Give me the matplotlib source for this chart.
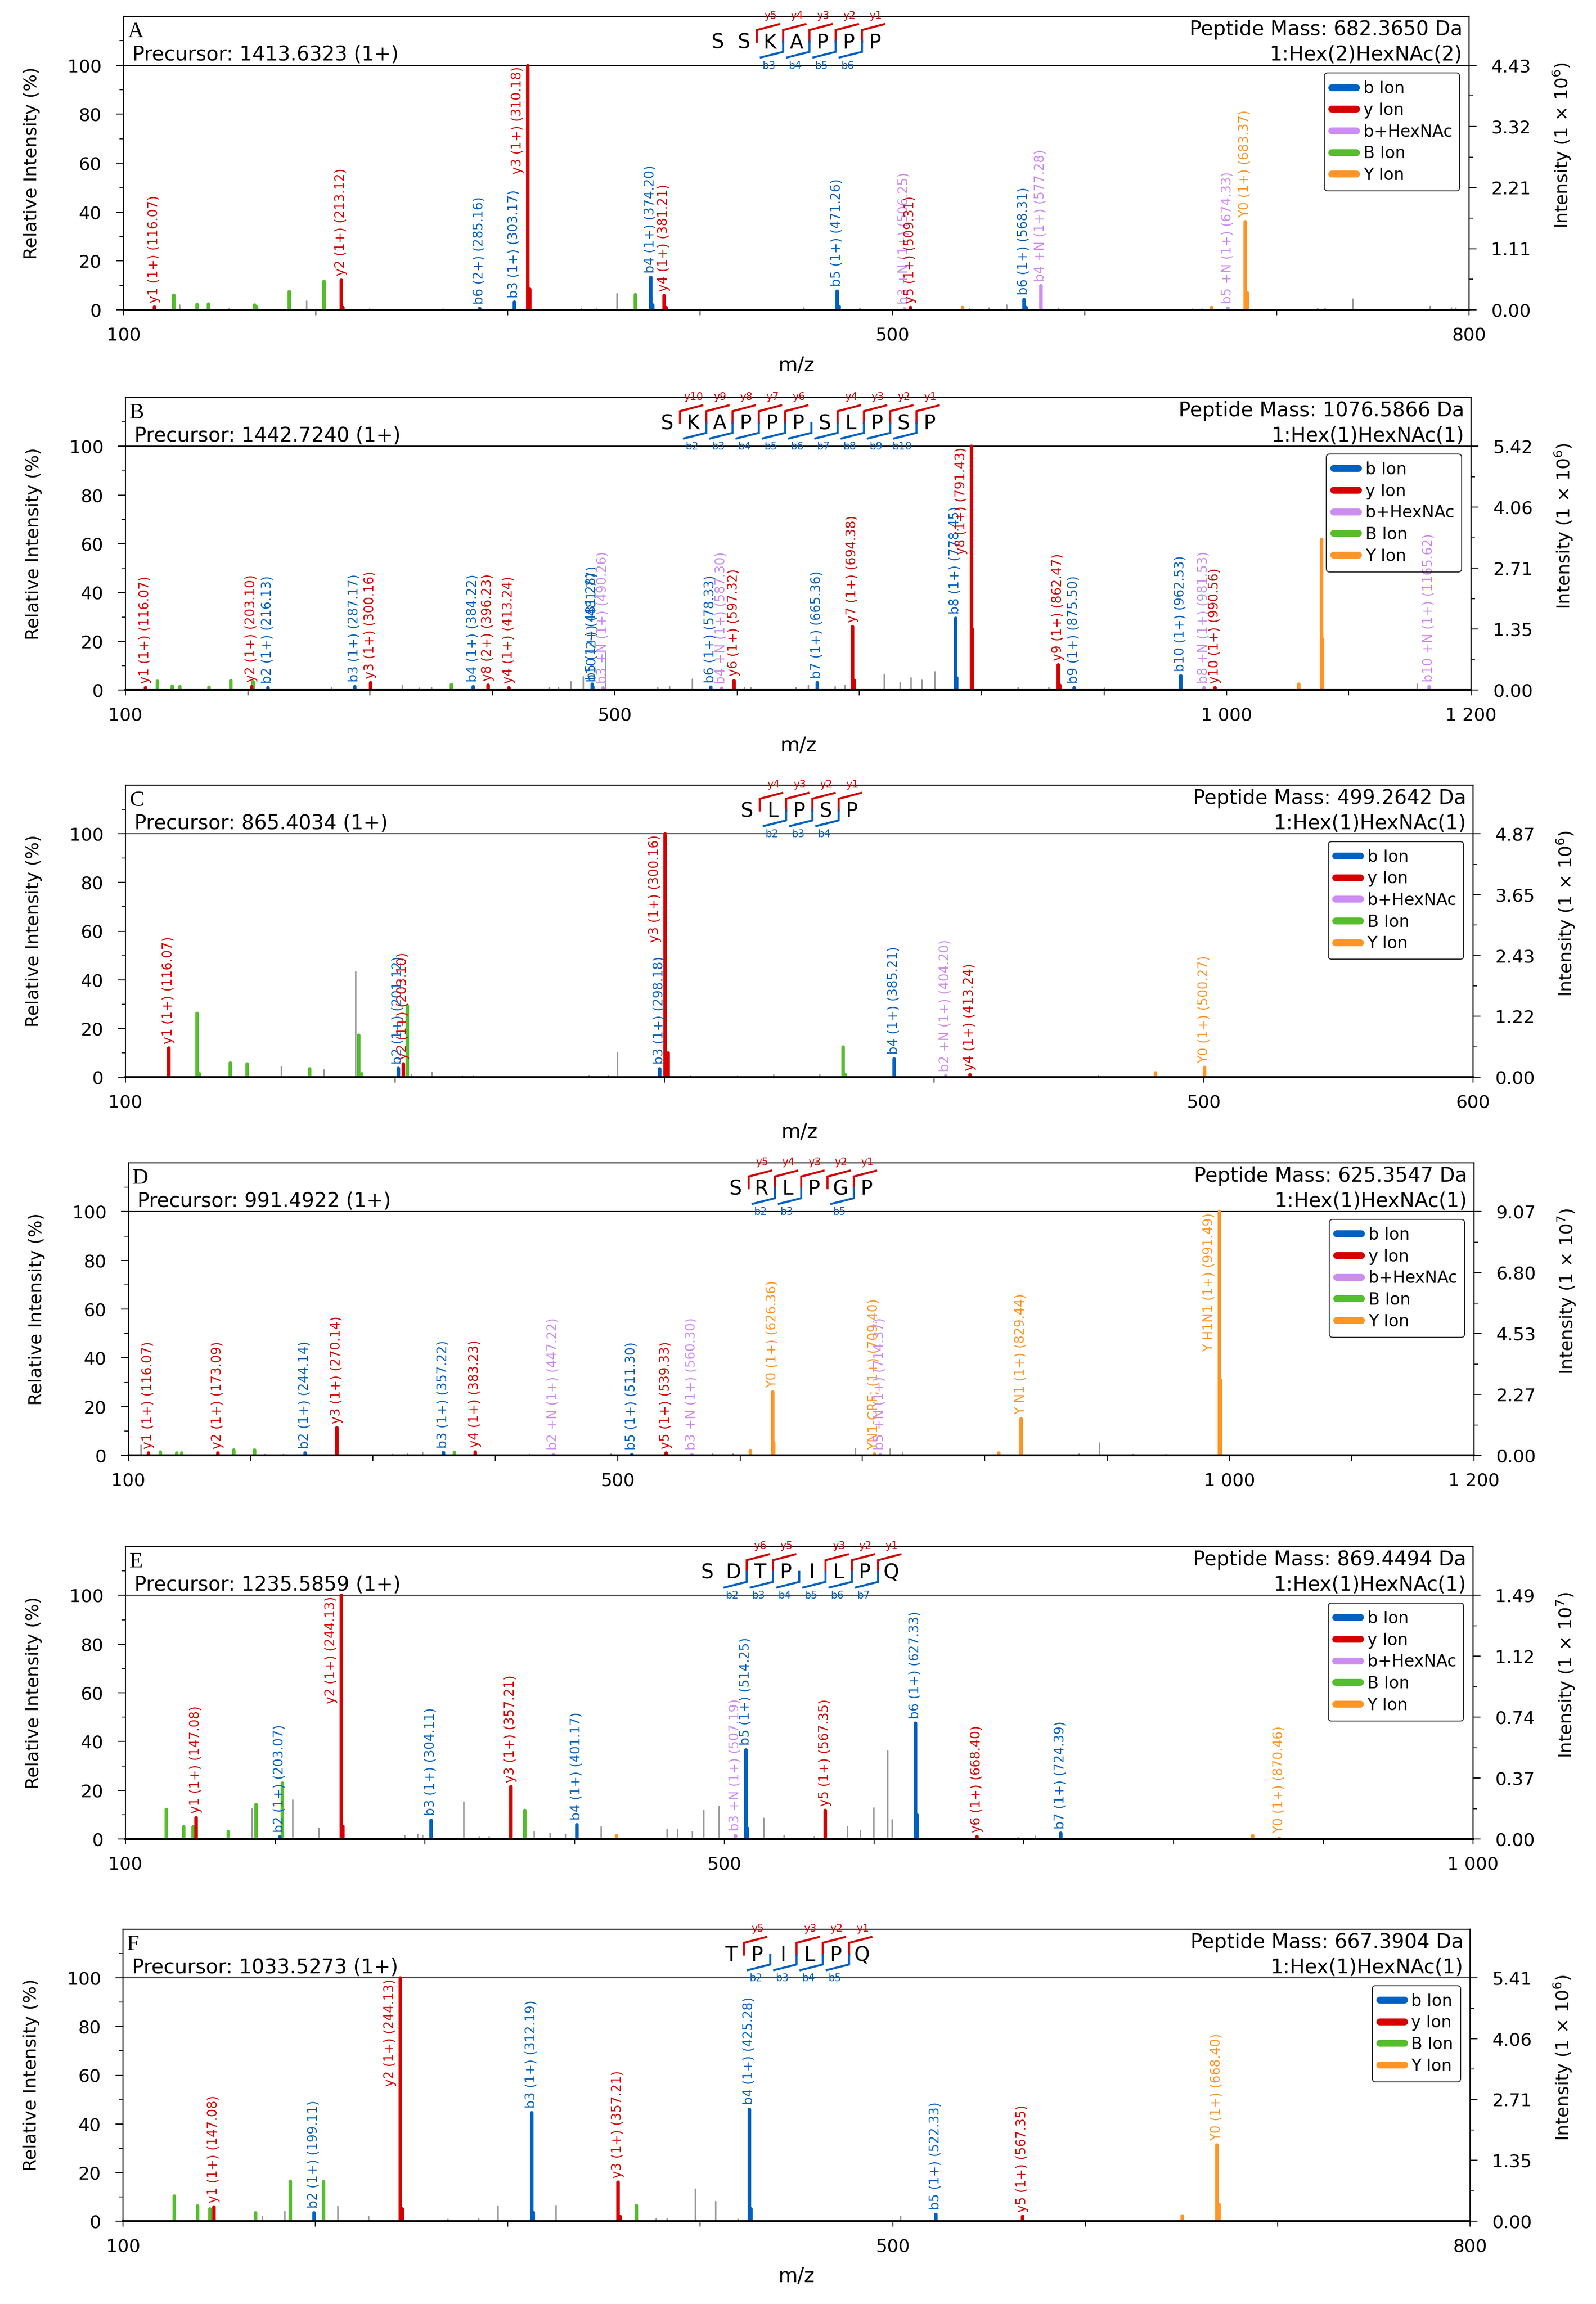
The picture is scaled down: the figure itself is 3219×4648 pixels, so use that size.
import matplotlib
matplotlib.use("Agg")
import matplotlib.pyplot as plt
from matplotlib.lines import Line2D
from matplotlib import transforms

# colours of the ion families
ION_COLORS = {"b": "#0061c1", "y": "#d50000", "N": "#cc8df0",
              "B": "#56bd2e", "Y": "#ff9527", "g": "#9b9b9b"}
LEGEND_NAMES = {"b": "b Ion", "y": "y Ion", "N": "b+HexNAc", "B": "B Ion", "Y": "Y Ion"}

# ---------------- panel A ----------------
A_SEQUENCE = "SSKAPPP"
A_Y_SITES = [2, 3, 4, 5, 6]
A_B_SITES = [3, 4, 5, 6]
A_PRECURSOR = "Precursor: 1413.6323 (1+)"
A_MASS = "Peptide Mass: 682.3650 Da"
A_GLYCAN = "1:Hex(2)HexNAc(2)"
A_XMAX = 800
A_XLABELS = {100: "100", 500: "500", 800: "800"}
A_RIGHT_TICKS = ["0.00", "1.11", "2.21", "3.32", "4.43"]
A_EXP = 6
# (m/z, relative intensity %, ion type, annotation)
A_PEAKS = [
    (116.07, 1.2, "y", "y1 (1+)"), (126.05, 6.0, "B", ""), (129.1, 2.0, "g", ""),
    (138.05, 2.3, "B", ""), (144.07, 2.5, "B", ""), (155.0, 0.6, "g", ""),
    (168.06, 2.0, "B", ""), (169.06, 1.2, "B", ""), (186.08, 7.6, "B", ""),
    (195.3, 3.7, "g", ""), (204.09, 11.7, "B", ""), (213.12, 12.2, "y", "y2 (1+)"),
    (214.12, 1.0, "y", ""), (228.0, 0.5, "g", ""), (266.0, 0.5, "g", ""),
    (285.16, 0.6, "b", "b6 (2+)"), (303.17, 3.2, "b", "b3 (1+)"),
    (310.18, 100.0, "y", "y3 (1+)"), (311.18, 8.5, "y", ""), (338.0, 0.6, "g", ""),
    (346.0, 0.5, "g", ""), (356.6, 6.7, "g", ""), (366.14, 6.2, "B", ""),
    (374.20, 13.4, "b", "b4 (1+)"), (375.20, 2.0, "b", ""),
    (381.21, 5.9, "y", "y4 (1+)"), (382.21, 1.0, "y", ""), (453.8, 0.8, "g", ""),
    (471.26, 7.8, "b", "b5 (1+)"), (472.26, 1.5, "b", ""), (483.0, 0.6, "g", ""),
    (506.25, 0.5, "N", "b3 +N (1+)"), (509.31, 1.0, "y", "y5 (1+)"),
    (536.3, 1.0, "Y", ""), (540.0, 0.6, "g", ""), (550.0, 0.8, "g", ""),
    (559.4, 2.0, "g", ""), (568.31, 4.3, "b", "b6 (1+)"), (569.31, 1.0, "b", ""),
    (577.28, 9.9, "N", "b4 +N (1+)"), (586.3, 0.6, "g", ""), (656.0, 0.5, "g", ""),
    (661.0, 0.5, "g", ""), (666.0, 1.0, "Y", ""), (674.33, 0.8, "N", "b5 +N (1+)"),
    (683.37, 36.0, "Y", "Y0 (1+)"), (684.37, 7.0, "Y", ""), (721.0, 0.6, "g", ""),
    (725.0, 0.6, "g", ""), (739.4, 4.5, "g", ""), (779.6, 1.5, "g", ""),
    (790.8, 0.8, "g", ""), (793.0, 0.8, "g", ""),
]

# ---------------- panel B ----------------
B_SEQUENCE = "SKAPPPSLPSP"
B_Y_SITES = [1, 2, 3, 4, 5, 7, 8, 9, 10]
B_B_SITES = [2, 3, 4, 5, 6, 7, 8, 9, 10]
B_PRECURSOR = "Precursor: 1442.7240 (1+)"
B_MASS = "Peptide Mass: 1076.5866 Da"
B_GLYCAN = "1:Hex(1)HexNAc(1)"
B_XMAX = 1200
B_XLABELS = {100: "100", 500: "500", 1000: "1 000", 1200: "1 200"}
B_RIGHT_TICKS = ["0.00", "1.35", "2.71", "4.06", "5.42"]
B_EXP = 6
B_PEAKS = [
    (116.07, 1.0, "y", "y1 (1+)"), (126.1, 3.7, "B", ""), (138.1, 1.6, "B", ""),
    (144.1, 1.5, "B", ""), (168.1, 1.3, "B", ""), (186.1, 3.8, "B", ""),
    (203.10, 1.5, "y", "y2 (1+)"), (204.1, 3.5, "B", ""), (216.13, 1.0, "b", "b2 (1+)"),
    (268.0, 1.0, "g", ""), (287.17, 1.5, "b", "b3 (1+)"), (300.16, 3.0, "y", "y3 (1+)"),
    (326.0, 2.0, "g", ""), (340.0, 0.8, "g", ""), (350.0, 1.0, "g", ""),
    (366.1, 2.2, "B", ""), (384.22, 1.5, "b", "b4 (1+)"), (396.23, 2.0, "y", "y8 (2+)"),
    (413.24, 1.0, "y", "y4 (1+)"), (446.0, 1.0, "g", ""), (454.0, 1.0, "g", ""),
    (464.0, 3.4, "g", ""), (474.0, 5.4, "g", ""), (481.28, 2.4, "b", "b5 (1+)"),
    (481.77, 1.5, "b", "b10 (2+)"), (490.26, 1.0, "N", "b3 +N (1+)"),
    (492.4, 15.6, "g", ""), (534.7, 1.0, "g", ""), (544.7, 1.5, "g", ""),
    (563.3, 4.4, "g", ""), (578.33, 1.2, "b", "b6 (1+)"), (587.30, 0.8, "N", "b4 +N (1+)"),
    (597.32, 3.9, "y", "y6 (1+)"), (606.0, 1.0, "g", ""), (611.0, 1.0, "g", ""),
    (648.0, 1.0, "g", ""), (658.0, 2.0, "g", ""), (665.36, 3.0, "b", "b7 (1+)"),
    (680.0, 1.5, "g", ""), (688.0, 2.0, "g", ""), (694.38, 26.0, "y", "y7 (1+)"),
    (695.38, 4.0, "y", ""), (720.0, 6.5, "g", ""), (733.0, 3.0, "g", ""),
    (742.0, 5.0, "g", ""), (751.0, 4.0, "g", ""), (761.4, 7.6, "g", ""),
    (778.45, 29.4, "b", "b8 (1+)"), (779.45, 5.0, "b", ""),
    (791.43, 100.0, "y", "y8 (1+)"), (792.43, 25.0, "y", ""), (829.7, 1.0, "g", ""),
    (854.6, 1.0, "g", ""), (862.47, 10.4, "y", "y9 (1+)"), (863.47, 2.0, "y", ""),
    (875.50, 1.0, "b", "b9 (1+)"), (900.0, 0.8, "g", ""), (962.53, 5.9, "b", "b10 (1+)"),
    (981.53, 1.0, "N", "b8 +N (1+)"), (990.56, 1.0, "y", "y10 (1+)"),
    (1059.0, 2.5, "Y", ""), (1077.6, 61.8, "Y", ""), (1078.6, 21.0, "Y", ""),
    (1156.0, 2.5, "g", ""), (1165.62, 1.5, "N", "b10 +N (1+)"),
]

# ---------------- panel C ----------------
C_SEQUENCE = "SLPSP"
C_Y_SITES = [1, 2, 3, 4]
C_B_SITES = [2, 3, 4]
C_PRECURSOR = "Precursor: 865.4034 (1+)"
C_MASS = "Peptide Mass: 499.2642 Da"
C_GLYCAN = "1:Hex(1)HexNAc(1)"
C_XMAX = 600
C_XLABELS = {100: "100", 500: "500", 600: "600"}
C_RIGHT_TICKS = ["0.00", "1.22", "2.43", "3.65", "4.87"]
C_EXP = 6
C_PEAKS = [
    (116.07, 12.0, "y", "y1 (1+)"), (126.4, 26.3, "B", ""), (127.4, 1.5, "B", ""),
    (138.9, 6.0, "B", ""), (145.0, 5.6, "B", ""), (157.8, 4.2, "g", ""),
    (168.3, 3.5, "B", ""), (173.6, 3.0, "g", ""), (185.4, 43.4, "g", ""),
    (186.5, 17.3, "B", ""), (187.5, 1.5, "B", ""), (201.12, 3.7, "b", "b2 (1+)"),
    (203.10, 5.4, "y", "y2 (1+)"), (204.5, 29.5, "B", ""), (206.0, 1.0, "g", ""),
    (213.7, 2.0, "g", ""), (225.0, 0.5, "g", ""), (229.0, 0.5, "g", ""),
    (272.0, 0.6, "g", ""), (279.0, 0.7, "g", ""), (282.4, 10.0, "g", ""),
    (298.18, 3.5, "b", "b3 (1+)"), (300.16, 100.0, "y", "y3 (1+)"),
    (301.16, 10.0, "y", ""), (309.6, 0.5, "g", ""), (327.0, 0.5, "g", ""),
    (340.5, 1.0, "g", ""), (357.5, 1.0, "g", ""), (366.2, 12.5, "B", ""),
    (367.2, 1.0, "B", ""), (385.21, 7.6, "b", "b4 (1+)"),
    (404.20, 0.6, "N", "b2 +N (1+)"), (413.24, 1.0, "y", "y4 (1+)"),
    (461.0, 0.6, "g", ""), (482.1, 1.8, "Y", ""), (500.27, 4.0, "Y", "Y0 (1+)"),
]

# ---------------- panel D ----------------
D_SEQUENCE = "SRLPGP"
D_Y_SITES = [1, 2, 3, 4, 5]
D_B_SITES = [2, 3, 5]
D_PRECURSOR = "Precursor: 991.4922 (1+)"
D_MASS = "Peptide Mass: 625.3547 Da"
D_GLYCAN = "1:Hex(1)HexNAc(1)"
D_XMAX = 1200
D_XLABELS = {100: "100", 500: "500", 1000: "1 000", 1200: "1 200"}
D_RIGHT_TICKS = ["0.00", "2.27", "4.53", "6.80", "9.07"]
D_EXP = 7
D_PEAKS = [
    (110.0, 4.3, "g", ""), (116.07, 1.0, "y", "y1 (1+)"), (126.1, 1.5, "B", ""),
    (139.3, 1.0, "B", ""), (143.4, 1.0, "B", ""), (173.09, 1.0, "y", "y2 (1+)"),
    (186.1, 2.3, "B", ""), (203.1, 2.3, "B", ""), (211.5, 0.5, "g", ""),
    (226.5, 0.5, "g", ""), (244.14, 1.0, "b", "b2 (1+)"), (270.14, 11.4, "y", "y3 (1+)"),
    (315.5, 0.5, "g", ""), (328.0, 0.8, "g", ""), (340.4, 1.2, "g", ""),
    (357.22, 1.2, "b", "b3 (1+)"), (366.1, 1.2, "B", ""), (383.23, 1.5, "y", "y4 (1+)"),
    (427.8, 0.5, "g", ""), (447.22, 0.5, "N", "b2 +N (1+)"), (494.4, 0.6, "g", ""),
    (511.30, 0.5, "b", "b5 (1+)"), (539.33, 1.0, "y", "y5 (1+)"),
    (560.30, 0.5, "N", "b3 +N (1+)"), (577.6, 0.8, "g", ""), (594.0, 0.6, "g", ""),
    (608.4, 2.0, "Y", ""), (626.36, 26.0, "Y", "Y0 (1+)"), (627.36, 5.0, "Y", ""),
    (694.2, 2.9, "g", ""), (709.40, 0.6, "Y", "YN1-CRF; (1+)"),
    (714.37, 0.5, "N", "b5 +N (1+)"), (722.6, 2.7, "g", ""), (732.7, 1.0, "g", ""),
    (811.4, 1.0, "Y", ""), (829.44, 15.0, "Y", "Y N1 (1+)"), (877.0, 0.6, "g", ""),
    (893.7, 5.0, "g", ""), (921.0, 0.5, "g", ""), (948.0, 0.5, "g", ""),
    (991.49, 100.0, "Y", "Y H1N1 (1+)"), (992.49, 31.0, "Y", ""),
]

# ---------------- panel E ----------------
E_SEQUENCE = "SDTPILPQ"
E_Y_SITES = [2, 3, 5, 6, 7]
E_B_SITES = [2, 3, 4, 5, 6, 7]
E_PRECURSOR = "Precursor: 1235.5859 (1+)"
E_MASS = "Peptide Mass: 869.4494 Da"
E_GLYCAN = "1:Hex(1)HexNAc(1)"
E_XMAX = 1000
E_XLABELS = {100: "100", 500: "500", 1000: "1 000"}
E_RIGHT_TICKS = ["0.00", "0.37", "0.74", "1.12", "1.49"]
E_EXP = 7
E_PEAKS = [
    (127.2, 12.2, "B", ""), (138.7, 5.0, "B", ""), (144.9, 5.0, "B", ""),
    (147.08, 8.8, "y", "y1 (1+)"), (168.7, 3.0, "B", ""), (184.3, 12.4, "g", ""),
    (187.0, 14.2, "B", ""), (203.07, 1.0, "b", "b2 (1+)"), (204.7, 23.0, "B", ""),
    (211.5, 16.0, "g", ""), (229.0, 4.5, "g", ""), (244.13, 100.0, "y", "y2 (1+)"),
    (245.13, 5.2, "y", ""), (286.3, 1.5, "g", ""), (295.0, 2.0, "g", ""),
    (298.5, 1.5, "g", ""), (304.11, 7.8, "b", "b3 (1+)"), (325.7, 15.2, "g", ""),
    (336.0, 1.0, "g", ""), (342.7, 1.0, "g", ""), (357.21, 21.5, "y", "y3 (1+)"),
    (366.5, 11.7, "B", ""), (373.0, 3.0, "g", ""), (383.5, 2.5, "g", ""),
    (393.7, 2.0, "g", ""), (401.17, 6.0, "b", "b4 (1+)"), (417.5, 5.0, "g", ""),
    (427.7, 1.5, "Y", ""), (461.6, 4.0, "g", ""), (468.5, 4.0, "g", ""),
    (478.6, 3.0, "g", ""), (486.0, 11.8, "g", ""), (496.3, 13.5, "g", ""),
    (507.19, 1.5, "N", "b3 +N (1+)"), (514.25, 36.7, "b", "b5 (1+)"),
    (515.25, 4.5, "b", ""), (526.0, 8.5, "g", ""), (539.8, 1.5, "g", ""),
    (560.0, 1.0, "g", ""), (567.35, 11.7, "y", "y5 (1+)"), (582.0, 5.0, "g", ""),
    (590.8, 3.5, "g", ""), (599.6, 12.8, "g", ""), (609.0, 36.2, "g", ""),
    (612.0, 8.0, "g", ""), (627.33, 47.6, "b", "b6 (1+)"), (628.33, 10.0, "b", ""),
    (668.40, 1.0, "y", "y6 (1+)"), (696.0, 0.8, "g", ""), (707.7, 1.2, "g", ""),
    (724.39, 2.4, "b", "b7 (1+)"), (852.6, 1.5, "Y", ""), (870.46, 0.5, "Y", "Y0 (1+)"),
]

# ---------------- panel F ----------------
F_SEQUENCE = "TPILPQ"
F_Y_SITES = [1, 3, 4, 5]
F_B_SITES = [2, 3, 4, 5]
F_PRECURSOR = "Precursor: 1033.5273 (1+)"
F_MASS = "Peptide Mass: 667.3904 Da"
F_GLYCAN = "1:Hex(1)HexNAc(1)"
F_XMAX = 800
F_XLABELS = {100: "100", 500: "500", 800: "800"}
F_RIGHT_TICKS = ["0.00", "1.35", "2.71", "4.06", "5.41"]
F_EXP = 6
F_PEAKS = [
    (126.5, 10.4, "B", ""), (138.6, 6.3, "B", ""), (145.0, 5.0, "B", ""),
    (147.08, 5.9, "y", "y1 (1+)"), (168.8, 3.5, "B", ""), (172.5, 2.0, "g", ""),
    (184.0, 4.0, "g", ""), (186.8, 16.6, "B", ""), (199.11, 3.5, "b", "b2 (1+)"),
    (204.2, 16.4, "B", ""), (211.6, 6.2, "g", ""), (227.5, 2.0, "g", ""),
    (244.13, 100.0, "y", "y2 (1+)"), (245.13, 5.0, "y", ""), (268.7, 0.8, "g", ""),
    (284.6, 1.0, "g", ""), (294.7, 6.4, "g", ""), (312.19, 44.7, "b", "b3 (1+)"),
    (313.19, 3.6, "b", ""), (324.8, 6.5, "g", ""), (357.21, 16.1, "y", "y3 (1+)"),
    (358.21, 2.0, "y", ""), (366.6, 6.5, "B", ""), (377.0, 1.0, "g", ""),
    (382.5, 1.0, "g", ""), (397.3, 13.2, "g", ""), (408.0, 8.2, "g", ""),
    (419.5, 0.8, "g", ""), (425.28, 46.1, "b", "b4 (1+)"), (426.28, 5.0, "b", ""),
    (504.0, 2.0, "g", ""), (522.33, 2.9, "b", "b5 (1+)"), (567.35, 2.0, "y", "y5 (1+)"),
    (650.2, 2.2, "Y", ""), (668.40, 31.3, "Y", "Y0 (1+)"), (669.40, 7.0, "Y", ""),
]

LEGEND_FULL = ["b", "y", "N", "B", "Y"]
LEGEND_SHORT = ["b", "y", "B", "Y"]

PANELS = [
    dict(letter="A", box=(249, 2963, 625, 33), peaks=A_PEAKS, seq=A_SEQUENCE,
         ysites=A_Y_SITES, bsites=A_B_SITES, prec=A_PRECURSOR, mass=A_MASS,
         glycan=A_GLYCAN, xmax=A_XMAX, xlabels=A_XLABELS, right=A_RIGHT_TICKS,
         exp=A_EXP, mz=True, legend=LEGEND_FULL),
    dict(letter="B", box=(253, 2967, 1392, 802), peaks=B_PEAKS, seq=B_SEQUENCE,
         ysites=B_Y_SITES, bsites=B_B_SITES, prec=B_PRECURSOR, mass=B_MASS,
         glycan=B_GLYCAN, xmax=B_XMAX, xlabels=B_XLABELS, right=B_RIGHT_TICKS,
         exp=B_EXP, mz=True, legend=LEGEND_FULL),
    dict(letter="C", box=(253, 2971, 2173, 1584), peaks=C_PEAKS, seq=C_SEQUENCE,
         ysites=C_Y_SITES, bsites=C_B_SITES, prec=C_PRECURSOR, mass=C_MASS,
         glycan=C_GLYCAN, xmax=C_XMAX, xlabels=C_XLABELS, right=C_RIGHT_TICKS,
         exp=C_EXP, mz=True, legend=LEGEND_FULL),
    dict(letter="D", box=(259, 2973, 2936, 2346), peaks=D_PEAKS, seq=D_SEQUENCE,
         ysites=D_Y_SITES, bsites=D_B_SITES, prec=D_PRECURSOR, mass=D_MASS,
         glycan=D_GLYCAN, xmax=D_XMAX, xlabels=D_XLABELS, right=D_RIGHT_TICKS,
         exp=D_EXP, mz=False, legend=LEGEND_FULL),
    dict(letter="E", box=(253, 2971, 3710, 3120), peaks=E_PEAKS, seq=E_SEQUENCE,
         ysites=E_Y_SITES, bsites=E_B_SITES, prec=E_PRECURSOR, mass=E_MASS,
         glycan=E_GLYCAN, xmax=E_XMAX, xlabels=E_XLABELS, right=E_RIGHT_TICKS,
         exp=E_EXP, mz=False, legend=LEGEND_FULL),
    dict(letter="F", box=(248, 2965, 4481, 3892), peaks=F_PEAKS, seq=F_SEQUENCE,
         ysites=F_Y_SITES, bsites=F_B_SITES, prec=F_PRECURSOR, mass=F_MASS,
         glycan=F_GLYCAN, xmax=F_XMAX, xlabels=F_XLABELS, right=F_RIGHT_TICKS,
         exp=F_EXP, mz=True, legend=LEGEND_SHORT),
]

W, H = 3219, 4648
RED = ION_COLORS["y"]
BLUE = ION_COLORS["b"]

fig = plt.figure(figsize=(W / 100, H / 100), dpi=100)
fig.patch.set_facecolor("white")


def draw_panel(p):
    left, right, zero, top = p["box"]
    ax = fig.add_axes([left / W, 1 - zero / H, (right - left) / W, (zero - top) / H])
    ax.set_xlim(100, p["xmax"])
    ax.set_ylim(0, 120)

    # peaks, gray noise first, annotated families on top
    for kind in ["g", "B", "Y", "N", "y", "b"]:
        xs = [pk[0] for pk in p["peaks"] if pk[2] == kind]
        hs = [pk[1] for pk in p["peaks"] if pk[2] == kind]
        if not xs:
            continue
        lw = 2.2 if kind == "g" else 5.2
        ax.vlines(xs, 0, hs, colors=ION_COLORS[kind], linewidth=lw,
                  capstyle="round", zorder=3)

    # rotated peak annotations
    for mz, h, kind, name in p["peaks"]:
        if not name:
            continue
        txt = "%s (%.2f)" % (name, mz)
        if h > 55:
            ax.annotate(txt, (mz, 99.5), xytext=(-5, 0), textcoords="offset points",
                        rotation=90, ha="right", va="top", fontsize=18.5,
                        color=ION_COLORS[kind], zorder=5)
        else:
            ax.annotate(txt, (mz, h), xytext=(0, 6), textcoords="offset points",
                        rotation=90, ha="center", va="bottom", fontsize=18.5,
                        color=ION_COLORS[kind], zorder=5)

    ax.axhline(100, color="black", lw=1.4, zorder=2)

    # axes styling
    for side in ["top", "left", "right"]:
        ax.spines[side].set_linewidth(1.6)
    ax.spines["bottom"].set_linewidth(2.8)
    ax.spines["bottom"].set_zorder(4)
    ticks = list(range(100, p["xmax"] + 1, 100))
    ax.set_xticks(ticks)
    ax.set_xticklabels([p["xlabels"].get(t, "") for t in ticks])
    ax.tick_params(axis="x", direction="out", length=8, width=1.5, pad=17,
                   labelsize=26)
    ax.set_yticks([0, 20, 40, 60, 80, 100])
    ax.set_yticks(list(range(10, 120, 20)), minor=True)
    ax.tick_params(axis="y", which="major", length=11, width=1.5, pad=21,
                   labelsize=26)
    ax.tick_params(axis="y", which="minor", length=5.5, width=1.2)

    ax2 = ax.twinx()
    ax2.set_ylim(0, 120)
    ax2.set_yticks([0, 25, 50, 75, 100])
    ax2.set_yticklabels(p["right"])
    ax2.set_yticks([12.5, 37.5, 62.5, 87.5], minor=True)
    ax2.tick_params(axis="y", which="major", length=11, width=1.5, pad=21,
                    labelsize=26)
    ax2.tick_params(axis="y", which="minor", length=5.5, width=1.2)
    for side in ["top", "left", "bottom"]:
        ax2.spines[side].set_visible(False)
    ax2.spines["right"].set_linewidth(1.6)

    ax.text(-0.068, 0.5, "Relative Intensity (%)", transform=ax.transAxes,
            rotation=90, ha="center", va="center", fontsize=26)
    ax.text(1.069, 0.56, "Intensity (1 \u00d7 10$^{%d}$)" % p["exp"],
            transform=ax.transAxes, rotation=90, ha="center", va="center",
            fontsize=26)
    if p["mz"]:
        ax.text(0.5, -0.19, "m/z", transform=ax.transAxes, ha="center",
                va="center", fontsize=29)

    # header texts
    trans = transforms.blended_transform_factory(ax.transAxes, ax.transData)
    ax.text(0.003, 111.5, p["letter"], transform=trans, ha="left", va="baseline",
            fontsize=32, family=["Liberation Serif", "DejaVu Serif"])
    ax.text(0.0065, 102.0, p["prec"], transform=trans, ha="left", va="baseline",
            fontsize=29)
    ax.text(0.995, 112.3, p["mass"], transform=trans, ha="right", va="baseline",
            fontsize=29)
    ax.text(0.995, 102.0, p["glycan"], transform=trans, ha="right", va="baseline",
            fontsize=29)

    # peptide sequence with fragment brackets
    seq = p["seq"]
    n = len(seq)
    sp = 53.0 / (right - left)
    for i, ch in enumerate(seq):
        ax.text(0.5 + (i - (n - 1) / 2) * sp, 106.9, ch, transform=trans,
                ha="center", va="baseline", fontsize=29)
    for k in p["ysites"]:
        d = 0.5 + (k - 0.5 - (n - 1) / 2) * sp
        ax.plot([d, d, d + 0.85 * sp], [109.6, 114.4, 116.8], color=RED, lw=3,
                transform=trans, clip_on=False, solid_joinstyle="miter")
        ax.text(d + 0.52 * sp, 118.9, "y%d" % (n - k), transform=trans,
                ha="center", va="baseline", fontsize=15, color=RED)
    for k in p["bsites"]:
        d = 0.5 + (k - 0.5 - (n - 1) / 2) * sp
        ax.plot([d, d, d - 0.85 * sp], [109.6, 105.5, 103.2], color=BLUE, lw=3,
                transform=trans, clip_on=False, solid_joinstyle="miter")
        ax.text(d - 0.55 * sp, 98.6, "b%d" % k, transform=trans,
                ha="center", va="baseline", fontsize=15, color=BLUE)

    # legend
    handles = [Line2D([0], [0], color=ION_COLORS[k], lw=10, solid_capstyle="round")
               for k in p["legend"]]
    leg = ax2.legend(handles, [LEGEND_NAMES[k] for k in p["legend"]],
                     loc="upper right", bbox_to_anchor=(0.993, 0.807),
                     fontsize=24, frameon=True, fancybox=True, handlelength=1.5,
                     handletextpad=0.4, labelspacing=0.32, borderpad=0.45,
                     borderaxespad=0)
    frame = leg.get_frame()
    frame.set_facecolor("none")
    frame.set_edgecolor("black")
    frame.set_linewidth(1.5)


for panel in PANELS:
    draw_panel(panel)

fig.savefig("out.png", dpi=100, facecolor="white")
